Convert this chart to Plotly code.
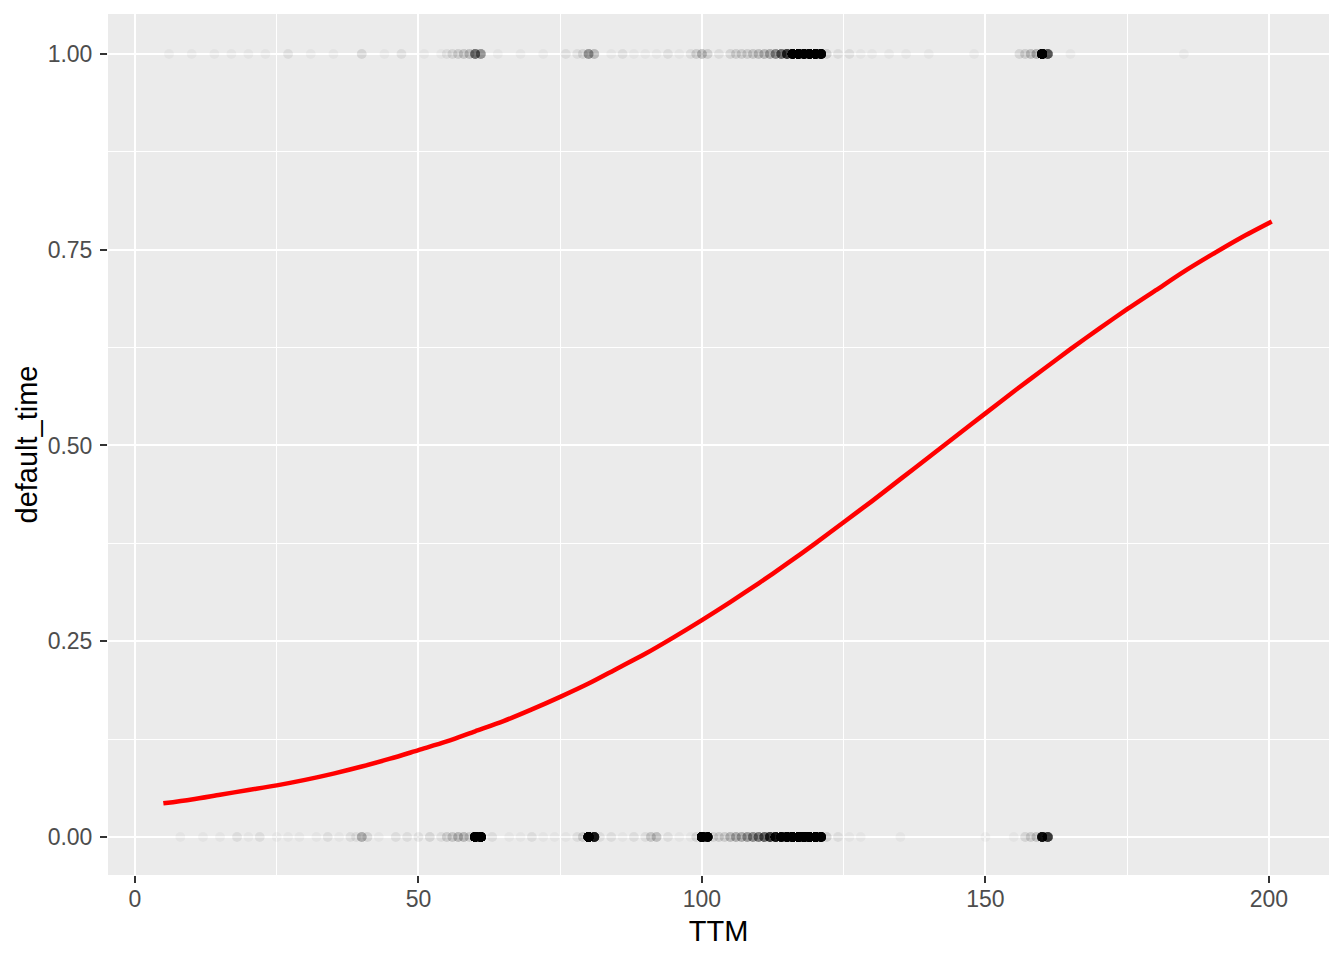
import numpy as np
import plotly.graph_objects as go

# Observations with default_time = 0 : TTM value and number of loans at it
ttm_0 = [8, 12, 15, 18, 20, 22, 25, 27, 29, 32,
         34, 36, 38, 39, 40, 41, 43, 46, 48, 50,
         52, 54, 55, 56, 57, 58, 59, 60, 61, 63,
         66, 68, 70, 72, 74, 76, 78, 79, 80, 81,
         82, 84, 86, 88, 90, 91, 92, 94, 96, 98,
         99, 100, 101, 102, 103, 104, 105, 106, 107, 108,
         109, 110, 111, 112, 113, 114, 115, 116, 117, 118,
         119, 120, 121, 122, 124, 126, 128, 135, 150, 155,
         157, 158, 159, 160, 161]
count_0 = [1, 1, 1, 2, 1, 2, 1, 1, 1, 1,
           2, 1, 2, 2, 9, 3, 1, 2, 2, 2,
           3, 2, 4, 5, 7, 7, 4, 160, 140, 2,
           1, 1, 2, 1, 1, 1, 2, 4, 160, 60,
           2, 2, 1, 2, 2, 5, 6, 2, 1, 1,
           3, 170, 90, 3, 4, 4, 7, 9, 9, 12,
           15, 18, 24, 40, 65, 85, 120, 150, 170, 180,
           170, 190, 100, 4, 2, 1, 1, 1, 1, 1,
           3, 4, 5, 70, 40]

# Observations with default_time = 1
ttm_1 = [6, 10, 14, 17, 20, 23, 27, 31, 35, 40,
         44, 47, 51, 54, 55, 56, 57, 58, 59, 60,
         61, 64, 68, 72, 76, 78, 79, 80, 81, 84,
         86, 88, 90, 92, 94, 96, 98, 99, 100, 101,
         103, 105, 106, 107, 108, 109, 110, 111, 112, 113,
         114, 115, 116, 117, 118, 119, 120, 121, 122, 124,
         126, 128, 130, 133, 136, 140, 148, 156, 157, 158,
         159, 160, 161, 165, 185]
count_1 = [1, 1, 1, 1, 1, 1, 2, 1, 1, 3,
           1, 2, 1, 1, 2, 3, 4, 5, 6, 22,
           14, 1, 1, 1, 2, 2, 3, 13, 7, 1,
           2, 1, 1, 1, 2, 1, 2, 4, 7, 4,
           2, 3, 4, 4, 4, 5, 6, 7, 9, 15,
           22, 40, 100, 120, 100, 120, 130, 100, 4, 2,
           2, 1, 1, 1, 1, 1, 1, 3, 4, 6,
           8, 130, 30, 1, 1]

# Fitted logistic curve
curve_ttm = [5, 10, 15, 20, 25, 30, 35, 40, 45, 50,
             55, 60, 65, 70, 75, 80, 85, 90, 95, 100,
             105, 110, 115, 120, 125, 130, 135, 140, 145, 150,
             155, 160, 165, 170, 175, 180, 185, 190, 195, 200.5]
curve_p = [0.043, 0.048, 0.054, 0.060, 0.066, 0.073, 0.081, 0.090, 0.100, 0.111,
           0.122, 0.135, 0.148, 0.163, 0.179, 0.196, 0.215, 0.234, 0.255, 0.277,
           0.300, 0.324, 0.349, 0.375, 0.402, 0.429, 0.457, 0.485, 0.513, 0.541,
           0.569, 0.596, 0.623, 0.649, 0.674, 0.698, 0.722, 0.744, 0.765, 0.786]

x_ticks = [0, 50, 100, 150, 200]
y_ticks = [0, 0.25, 0.5, 0.75, 1.0]
y_tick_text = ["0.00", "0.25", "0.50", "0.75", "1.00"]

x0 = np.repeat(ttm_0, count_0)
x1 = np.repeat(ttm_1, count_1)
xs = np.concatenate([x0, x1])
ys = np.concatenate([np.zeros(len(x0)), np.ones(len(x1))])

fig = go.Figure()
fig.add_trace(go.Scatter(
    x=xs, y=ys, mode="markers",
    marker=dict(color="black", size=10, opacity=0.03, line=dict(width=0)),
    showlegend=False, hoverinfo="skip"))
fig.add_trace(go.Scatter(
    x=curve_ttm, y=curve_p, mode="lines",
    line=dict(color="#FF0000", width=4.5, shape="spline", smoothing=0.8),
    showlegend=False))

axis_common = dict(
    showgrid=True, gridcolor="white", gridwidth=2,
    zeroline=False, showline=False,
    ticks="outside", ticklen=7, tickwidth=2, tickcolor="#333333",
    tickfont=dict(family="Liberation Sans, Arial", size=23, color="#4D4D4D"),
)

fig.update_xaxes(
    **axis_common,
    ticklabelstandoff=-4,
    range=[-4.76, 210.6],
    tickmode="array", tickvals=x_ticks, ticktext=[str(v) for v in x_ticks],
    minor=dict(tickvals=[25, 75, 125, 175], showgrid=True, gridcolor="white",
               gridwidth=1, ticks=""),
    title=dict(text="TTM", font=dict(family="Liberation Sans, Arial", size=29, color="black"),
               standoff=10),
)
fig.update_yaxes(
    **axis_common,
    ticklabelstandoff=3,
    range=[-0.0485, 1.051],
    tickmode="array", tickvals=y_ticks, ticktext=y_tick_text,
    minor=dict(tickvals=[0.125, 0.375, 0.625, 0.875], showgrid=True, gridcolor="white",
               gridwidth=1, ticks=""),
    title=dict(text="default_time", font=dict(family="Liberation Sans, Arial", size=29, color="black"),
               standoff=1),
)

fig.update_layout(
    width=1344, height=960,
    margin=dict(l=100, r=23, t=6, b=93, autoexpand=False),
    plot_bgcolor="#EBEBEB", paper_bgcolor="white",
    showlegend=False,
)

fig.write_html("out.html")
